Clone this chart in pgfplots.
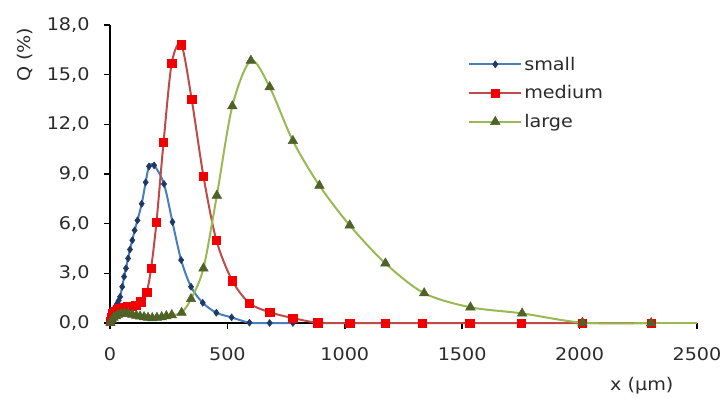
\documentclass[border=0pt]{standalone}
\usepackage{fontspec}
\setmainfont{DejaVu Sans}[FakeStretch=1.1]
\usepackage{pgfplots}
\pgfplotsset{compat=1.18}
\definecolor{bline}{HTML}{4A7EBB}
\definecolor{bmark}{HTML}{1F3864}
\definecolor{rline}{HTML}{BE4B48}
\definecolor{rmark}{HTML}{F00000}
\definecolor{gline}{HTML}{98B954}
\definecolor{gmark}{HTML}{4F6228}
\definecolor{txt}{HTML}{2B2B2B}
\begin{document}
\begin{tikzpicture}
\useasboundingbox (-110bp,-76bp) rectangle (614bp,323bp);
\begin{axis}[
  scale only axis, width=587bp, height=298bp,
  xmin=0, xmax=2500, ymin=0, ymax=18,
  clip=false,
  axis x line*=bottom, axis y line*=left,
  axis line style={line width=1.5bp, black},
  xtick={0,500,1000,1500,2000,2500},
  ytick={0,3,6,9,12,15,18},
  tick align=outside, major tick length=6bp,
  tick style={line width=1.5bp, black},
  ticklabel style={font=\fontsize{17.5}{21}\selectfont, text=txt},
  /pgf/number format/assume math mode=true,
  y tick label style={/pgf/number format/fixed, /pgf/number format/fixed zerofill,
    /pgf/number format/precision=1, /pgf/number format/use comma, xshift=-11bp},
  x tick label style={/pgf/number format/fixed, /pgf/number format/precision=0,
    /pgf/number format/1000 sep={}, yshift=-15bp},
  xlabel={x (µm)}, ylabel={Q (\%)},
  xlabel style={at={(axis description cs:0.906,-0.211)}, anchor=center,
    font=\fontsize{17.5}{21}\selectfont, text=txt},
  ylabel style={at={(axis description cs:-0.145,0.9)}, anchor=center,
    font=\fontsize{17.5}{21}\selectfont, text=txt},
  legend style={draw=none, fill=none, at={(axis description cs:0.61,0.9)},
    anchor=north west, row sep=10bp, font=\fontsize{17.5}{21}\selectfont,
    text=txt, inner sep=0pt},
  legend cell align=left,
  legend image code/.code={\draw[mark repeat=2, mark phase=2, #1]
    plot coordinates {(0bp,0bp) (26bp,0bp) (52bp,0bp)};},
]
\addplot[color=bline, line width=2bp, smooth, mark=diamond*, mark size=3.5bp,
  mark options={fill=bmark, draw=bmark, line width=0.5bp}] coordinates {
(2,0.05) (5,0.3) (9,0.55) (14,0.75) (20,0.92) (26,1.05) (31,1.19) (37,1.35)
(43,1.58) (52,2.19) (60,2.8) (68,3.3) (77,3.9) (85,4.44) (95,5.0) (105,5.6)
(117,6.2) (135,7.2) (152,8.5) (166,9.46) (188,9.52) (230,8.4) (266,6.1)
(303,3.8) (345,2.19) (395,1.22) (453,0.62) (518,0.34) (594,0.02) (680,0) (779,0)
};
\addlegendentry{small}
\addplot[color=rline, line width=2bp, smooth, mark=square*, mark size=4.2bp,
  mark options={fill=rmark, draw=rmark, line width=0.5bp}] coordinates {
(2,0.1) (6,0.35) (12,0.55) (20,0.7) (30,0.8) (42,0.88) (57,0.95) (75,1.0)
(92,1.02) (110,1.08) (131,1.28) (156,1.85) (175,3.3) (198,6.1) (228,10.9)
(263,15.7) (304,16.8) (348,13.5) (398,8.87) (453,5.0) (521,2.55) (594,1.2)
(680,0.65) (779,0.3) (884,0.02) (1021,0) (1173,0) (1330,0) (1532,0) (1752,0)
(2012,0) (2305,0)
};
\addlegendentry{medium}
\addplot[color=gline, line width=2bp, smooth, mark=triangle*, mark size=5.5bp,
  mark options={fill=gmark, draw=gmark, line width=0.5bp}] coordinates {
(2,0.02) (8,0.2) (15,0.32) (25,0.42) (35,0.5) (48,0.55) (62,0.58) (78,0.56)
(95,0.5) (112,0.45) (128,0.4) (145,0.36) (162,0.32) (180,0.3) (200,0.32)
(220,0.36) (240,0.42) (263,0.48) (305,0.62) (345,1.45) (398,3.3) (455,7.7)
(521,13.1) (600,15.85) (680,14.25) (779,11.0) (892,8.3) (1021,5.9) (1173,3.6)
(1338,1.8) (1535,0.95) (1755,0.58) (2012,0.02) (2305,0)
};
\addlegendentry{large}
\addplot[forget plot, color=gline, line width=2bp] coordinates {(2305,0) (2500,0)};
\end{axis}
\end{tikzpicture}
\end{document}
